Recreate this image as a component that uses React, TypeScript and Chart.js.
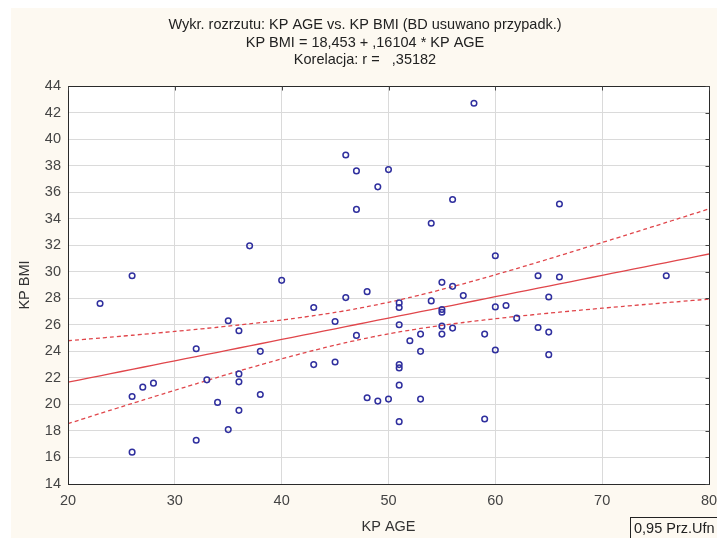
import React, { useEffect, useRef } from "react";
import { Chart, registerables } from "chart.js";

Chart.register(...registerables);

const ageValues = [
  23, 26, 26, 26, 27, 28, 32, 32, 33, 34, 35, 35, 36, 36, 36, 36, 37, 38, 38, 40,
  43, 43, 45, 45, 46, 46, 47, 47, 47, 48, 48, 49, 49, 50, 50, 51, 51, 51, 51, 51,
  51, 51, 52, 53, 53, 53, 54, 54, 55, 55, 55, 55, 55, 56, 56, 56, 57, 58, 59, 59,
  60, 60, 60, 61, 62, 64, 64, 65, 65, 65, 66, 66, 76,
];
const bmiValues = [
  27.6, 29.7, 20.6, 16.4, 21.3, 21.6, 24.2, 17.3, 21.85, 20.15, 26.3, 18.1, 25.55, 22.3, 21.7, 19.55, 31.95, 24.0, 20.75, 29.35,
  27.3, 23.0, 26.25, 23.2, 38.8, 28.05, 37.6, 34.7, 25.2, 28.5, 20.5, 36.4, 20.25, 37.7, 20.4, 27.65, 27.3, 26.0, 23.0, 22.75,
  21.45, 18.7, 24.8, 25.3, 24.0, 20.4, 33.65, 27.8, 29.2, 27.15, 26.95, 25.9, 25.3, 35.45, 28.9, 25.75, 28.2, 42.7, 25.3, 18.9,
  31.2, 27.35, 24.1, 27.45, 26.5, 29.7, 25.8, 28.1, 25.45, 23.75, 35.1, 29.6, 29.7,
];
const xTickValues = [20, 30, 40, 50, 60, 70, 80];
const yTickValues = [14, 16, 18, 20, 22, 24, 26, 28, 30, 32, 34, 36, 38, 40, 42, 44];
const titleLines = [
  "Wykr. rozrzutu: KP AGE vs. KP BMI (BD usuwano przypadk.)",
  "KP BMI = 18,453 + ,16104 * KP AGE",
  "Korelacja: r =   ,35182",
];
const interceptValue = 18.453;
const slopeValue = 0.16104;
const tCritical = 1.994;
const legendText = "0,95 Prz.Ufn";

const FONT = "'Liberation Sans', Arial, sans-serif";
const RED = "#e0464b";
const BLUE = "#2f2f9e";

function buildLines() {
  const n = ageValues.length;
  const xbar = ageValues.reduce((a, b) => a + b, 0) / n;
  let sxx = 0;
  let sse = 0;
  for (let i = 0; i < n; i++) {
    sxx += (ageValues[i] - xbar) ** 2;
    const r = bmiValues[i] - (interceptValue + slopeValue * ageValues[i]);
    sse += r * r;
  }
  const s = Math.sqrt(sse / (n - 2));
  const fit: { x: number; y: number }[] = [];
  const upper: { x: number; y: number }[] = [];
  const lower: { x: number; y: number }[] = [];
  for (let x = 20; x <= 80; x += 1) {
    const yh = interceptValue + slopeValue * x;
    const h = tCritical * s * Math.sqrt(1 / n + (x - xbar) ** 2 / sxx);
    fit.push({ x, y: yh });
    upper.push({ x, y: yh + h });
    lower.push({ x, y: yh - h });
  }
  return { fit, upper, lower };
}

const framePlugin = {
  id: "framePlugin",
  beforeDraw(chart: any) {
    const { ctx, chartArea } = chart;
    ctx.save();
    ctx.fillStyle = "#ffffff";
    ctx.fillRect(chartArea.left, chartArea.top, chartArea.right - chartArea.left, chartArea.bottom - chartArea.top);
    ctx.restore();
  },
  afterDraw(chart: any) {
    const { ctx, chartArea, scales } = chart;
    const l = Math.round(chartArea.left) + 0.5;
    const r = Math.round(chartArea.right) + 0.5;
    const t = Math.round(chartArea.top) + 0.5;
    const b = Math.round(chartArea.bottom) + 0.5;
    ctx.save();
    ctx.strokeStyle = "#2a2a2a";
    ctx.lineWidth = 1;
    ctx.strokeRect(l, t, r - l, b - t);
    ctx.strokeStyle = "#444";
    ctx.beginPath();
    xTickValues.forEach((v) => {
      const px = Math.round(scales.x.getPixelForValue(v)) + 0.5;
      ctx.moveTo(px, t);
      ctx.lineTo(px, t + 4);
    });
    yTickValues.forEach((v) => {
      const py = Math.round(scales.y.getPixelForValue(v)) + 0.5;
      ctx.moveTo(r, py);
      ctx.lineTo(r - 4, py);
    });
    ctx.stroke();
    ctx.fillStyle = "#222";
    ctx.font = `14.5px ${FONT}`;
    ctx.textAlign = "center";
    ctx.textBaseline = "middle";
    const cx = chart.width / 2 + 1;
    titleLines.forEach((line, i) => {
      ctx.fillText(line, cx, 17 + i * 17.5);
    });
    ctx.strokeStyle = "#222";
    ctx.strokeRect(619.5, 509.5, 100, 30);
    ctx.textAlign = "left";
    ctx.fillStyle = "#222";
    ctx.fillText(legendText, 623, 521);
    ctx.restore();
  },
};

export default function App() {
  const canvasRef = useRef<HTMLCanvasElement | null>(null);

  useEffect(() => {
    if (!canvasRef.current) return;
    const { fit, upper, lower } = buildLines();
    const points = ageValues.map((x, i) => ({ x, y: bmiValues[i] }));
    const chart = new Chart(canvasRef.current, {
      type: "scatter",
      data: {
        datasets: [
          {
            type: "scatter",
            label: "KP BMI",
            data: points,
            order: 0,
            pointStyle: "circle",
            pointRadius: 2.8,
            pointBorderWidth: 1.5,
            pointBorderColor: BLUE,
            pointBackgroundColor: "rgba(0,0,0,0)",
            showLine: false,
          } as any,
          {
            type: "line",
            label: "fit",
            data: fit,
            order: 1,
            borderColor: RED,
            borderWidth: 1.3,
            pointRadius: 0,
            fill: false,
          } as any,
          {
            type: "line",
            label: "upper",
            data: upper,
            order: 2,
            borderColor: RED,
            borderWidth: 1.3,
            borderDash: [4, 3],
            pointRadius: 0,
            fill: false,
            tension: 0.3,
          } as any,
          {
            type: "line",
            label: "lower",
            data: lower,
            order: 3,
            borderColor: RED,
            borderWidth: 1.3,
            borderDash: [4, 3],
            pointRadius: 0,
            fill: false,
            tension: 0.3,
          } as any,
        ],
      },
      options: {
        animation: false,
        responsive: false,
        events: [],
        layout: { padding: { top: 78, right: 8, left: 0, bottom: 0 } },
        plugins: {
          legend: { display: false },
          title: { display: false },
          tooltip: { enabled: false },
        },
        scales: {
          x: {
            type: "linear",
            min: 20,
            max: 80,
            afterFit: (scale: any) => {
              scale.height = 54;
              scale.paddingLeft = 0;
              scale.paddingRight = 0;
            },
            afterBuildTicks: (scale: any) => {
              scale.ticks = xTickValues.map((v) => ({ value: v }));
            },
            ticks: {
              color: "#444",
              font: { family: FONT, size: 14.5 },
              padding: 8,
              maxRotation: 0,
            },
            grid: { color: "#dadada", drawTicks: false, lineWidth: 1 },
            border: { display: true, color: "#2a2a2a" },
            title: {
              display: true,
              text: "KP AGE",
              color: "#333",
              font: { family: FONT, size: 14.5 },
              padding: { top: 0, bottom: 2 },
            },
          },
          y: {
            type: "linear",
            min: 14,
            max: 44,
            afterFit: (scale: any) => {
              scale.width = 57;
              scale.paddingTop = 0;
              scale.paddingBottom = 0;
            },
            afterBuildTicks: (scale: any) => {
              scale.ticks = yTickValues.map((v) => ({ value: v }));
            },
            ticks: {
              color: "#444",
              font: { family: FONT, size: 14.5 },
              padding: 7,
            },
            grid: { color: "#dadada", drawTicks: false, lineWidth: 1 },
            border: { display: true, color: "#2a2a2a" },
            title: {
              display: true,
              text: "KP BMI",
              color: "#333",
              font: { family: FONT, size: 14.5 },
              padding: { top: 5, bottom: 0 },
            },
          },
        },
      } as any,
      plugins: [framePlugin],
    });
    return () => {
      chart.destroy();
    };
  }, []);

  return (
    <div
      style={{
        position: "absolute",
        left: 11,
        top: 8,
        width: 706,
        height: 530,
        background: "#fdf9f1",
        overflow: "hidden",
      }}
    >
      <canvas ref={canvasRef} width={706} height={530} style={{ display: "block" }} />
    </div>
  );
}
